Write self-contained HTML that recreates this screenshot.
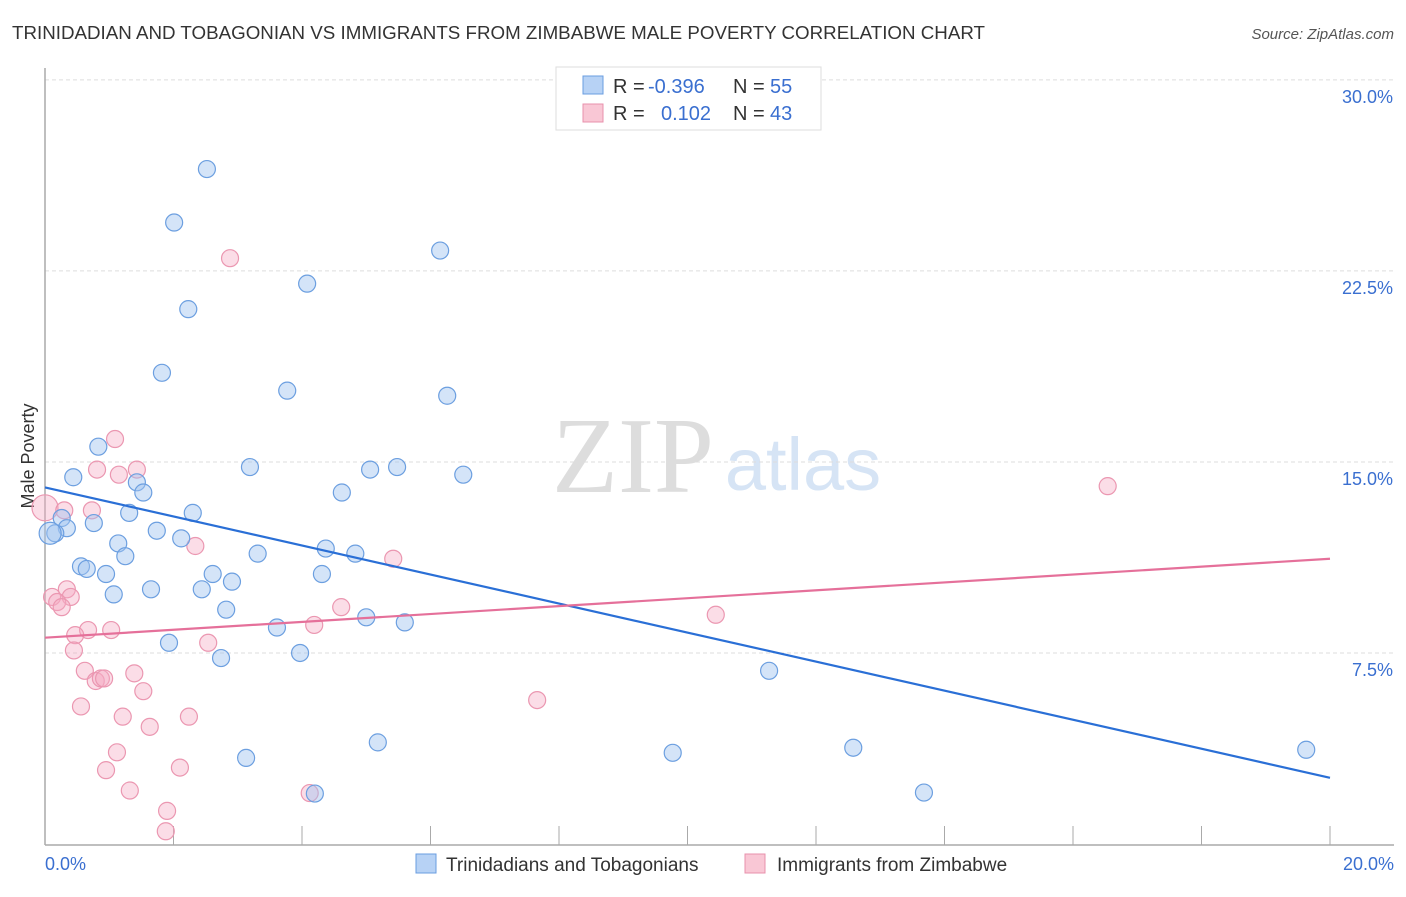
<!DOCTYPE html>
<html><head><meta charset="utf-8"><style>
body{margin:0;background:#fff;font-family:"Liberation Sans",sans-serif}
</style></head><body>
<svg width="1406" height="892" viewBox="0 0 1406 892" id="svg" font-family="Liberation Sans, sans-serif">
<text x="12" y="39" font-size="18" fill="#333" textLength="973" lengthAdjust="spacingAndGlyphs">TRINIDADIAN AND TOBAGONIAN VS IMMIGRANTS FROM ZIMBABWE MALE POVERTY CORRELATION CHART</text>
<text x="1394" y="39" font-size="15" fill="#555" font-style="italic" text-anchor="end">Source: ZipAtlas.com</text>
<text x="633" y="492" font-size="108" fill="#ddd" font-family="Liberation Serif, serif" text-anchor="middle">ZIP</text>
<text x="803" y="490" font-size="74" fill="#d6e4f5" text-anchor="middle">atlas</text>
<text transform="translate(34,456) rotate(-90)" font-size="18" fill="#333" text-anchor="middle">Male Poverty</text>
<g id="grid"></g><g id="pts"></g><g id="lines"></g>
<g font-size="20">
<rect x="556" y="67" width="265" height="63" fill="#fff" stroke="#ddd"/>
<rect x="583" y="76" width="20" height="18" fill="#b7d2f5" stroke="#6a9de0"/>
<rect x="583" y="104" width="20" height="18" fill="#f9c7d5" stroke="#e891ac"/>
<text x="613" y="93" fill="#333">R =</text><text x="648" y="93" fill="#3a6fd0">-0.396</text>
<text x="733" y="93" fill="#333">N =</text><text x="770" y="93" fill="#3a6fd0">55</text>
<text x="613" y="120" fill="#333">R =</text><text x="661" y="120" fill="#3a6fd0">0.102</text>
<text x="733" y="120" fill="#333">N =</text><text x="770" y="120" fill="#3a6fd0">43</text>
</g>
<g>
<rect x="416" y="854" width="20" height="19" fill="#b7d2f5" stroke="#6a9de0"/>
<text x="446" y="871" font-size="19" fill="#333">Trinidadians and Tobagonians</text>
<rect x="745" y="854" width="20" height="19" fill="#f9c7d5" stroke="#e891ac"/>
<text x="777" y="871" font-size="19" fill="#333">Immigrants from Zimbabwe</text>
</g>
</svg>
<script>
const yTicks=[7.5,15,22.5,30];
const xTickLabels=["0.0%","20.0%"];
const blueX=[2.52,2.01,6.15,4.08,2.23,1.82,3.77,6.26,0.83,0.44,3.19,5.06,5.48,6.51,1.43,1.53,4.62,0.26,0.76,1.31,2.30,0.34,0.16,1.74,2.12,1.14,4.37,3.31,4.83,1.25,0.56,0.65,0.95,2.61,4.31,2.91,1.65,2.44,1.07,2.82,5.00,5.60,3.61,1.93,3.97,2.74,11.27,5.18,3.13,9.77,12.58,4.20,13.68,19.63,0.08];
const blueY=[26.5,24.4,23.3,22.0,21.0,18.5,17.8,17.6,15.6,14.4,14.8,14.7,14.8,14.5,14.2,13.8,13.8,12.8,12.6,13.0,13.0,12.4,12.2,12.3,12.0,11.8,11.6,11.4,11.4,11.3,10.9,10.8,10.6,10.6,10.6,10.3,10.0,10.0,9.8,9.2,8.9,8.7,8.5,7.9,7.5,7.3,6.8,3.99,3.38,3.58,3.78,1.98,2.02,3.7,12.2];
const pinkX=[2.88,1.09,0.81,1.43,1.15,0.0,0.73,0.30,2.34,5.42,0.34,0.11,0.40,0.19,0.26,4.61,10.44,4.19,0.67,1.03,0.47,2.54,0.45,0.62,1.39,0.79,0.87,0.92,1.53,0.56,1.21,2.24,1.63,1.12,0.95,2.10,1.32,4.12,1.90,1.88,7.66,16.54];
const pinkY=[23.0,15.9,14.7,14.7,14.5,13.2,13.1,13.1,11.7,11.2,10.0,9.7,9.7,9.5,9.3,9.3,9.0,8.6,8.4,8.4,8.2,7.9,7.6,6.8,6.7,6.4,6.5,6.5,6.0,5.4,5.0,5.0,4.6,3.6,2.9,3.0,2.1,2.0,1.3,0.5,5.65,14.05];
const trendBlue=[14.0,2.6];
const trendPink=[8.1,11.2];
const X=v=>45+v*64.25, Y=v=>844-v*25.47;
const NS="http://www.w3.org/2000/svg";
function mk(t,a,p){const e=document.createElementNS(NS,t);for(const k in a)e.setAttribute(k,a[k]);p.appendChild(e);return e;}
const grid=document.getElementById('grid');
yTicks.forEach(t=>{
 const l=mk('line',{x1:45,x2:1394,y1:Y(t),y2:Y(t),stroke:'#ddd','stroke-dasharray':'4,3'},grid);
 
 
 const tx=mk('text',{x:1393,y:Y(t)+23,'font-size':18,fill:'#3a6fd0','text-anchor':'end'},grid);
 tx.textContent=t.toFixed(1)+'%';
 
 
});
mk('line',{x1:45,x2:45,y1:68,y2:845,stroke:'#aaa','stroke-width':1.5},grid);
mk('line',{x1:45,x2:1394,y1:845,y2:845,stroke:'#aaa','stroke-width':1.5},grid);
for(let i=1;i<=10;i++){mk('line',{x1:X(i*2),x2:X(i*2),y1:826,y2:845,stroke:'#aaa'},grid);}
xTickLabels.forEach((s,i)=>{const t=mk('text',{x:i?1394:45,y:870,'font-size':18,fill:'#3a6fd0','text-anchor':i?'end':'start'},grid);t.textContent=s;
 
 });
const pts=document.getElementById('pts');
pinkX.forEach((v,i)=>{const c=mk('circle',{cx:X(v),cy:Y(pinkY[i]),r:i==5?13:8.5,fill:'rgba(246,170,195,0.4)',stroke:'#eb97b1','stroke-width':1.2},pts);
 
 });
blueX.forEach((v,i)=>{const c=mk('circle',{cx:X(v),cy:Y(blueY[i]),r:i==54?11:8.5,fill:'rgba(160,196,240,0.45)',stroke:'#6c9fe0','stroke-width':1.2},pts);
 
 });
const ln=document.getElementById('lines');
const lb=mk('line',{x1:X(0),y1:Y(trendBlue[0]),x2:X(20),y2:Y(trendBlue[1]),stroke:'#2a6fd6','stroke-width':2.2},ln);


const lp=mk('line',{x1:X(0),y1:Y(trendPink[0]),x2:X(20),y2:Y(trendPink[1]),stroke:'#e5709a','stroke-width':2.2},ln);


</script>
</body></html>
